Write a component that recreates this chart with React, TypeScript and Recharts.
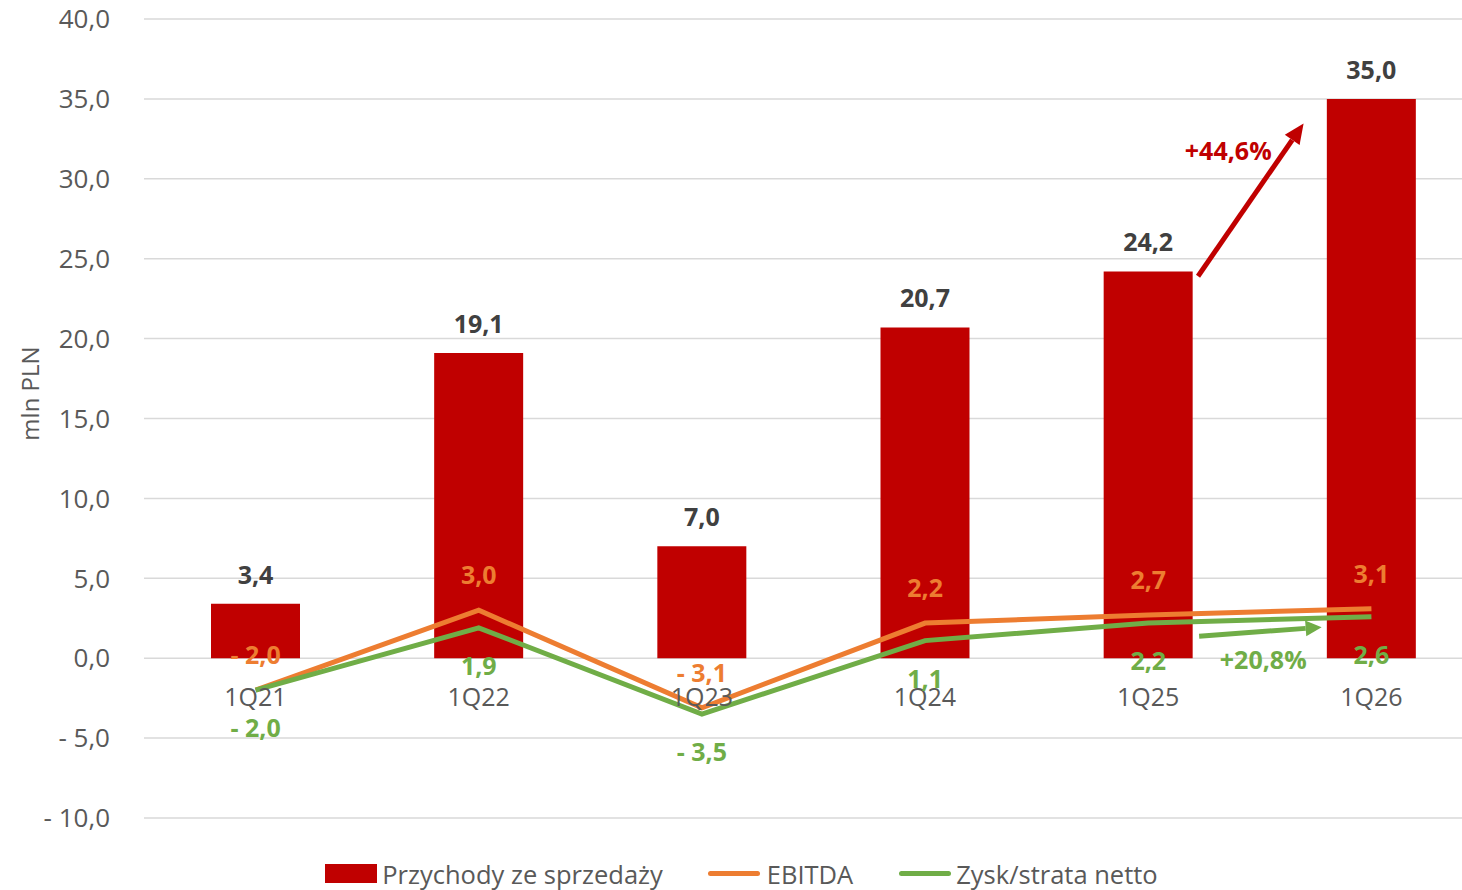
import React from "react";
import {
  Bar,
  CartesianGrid,
  ComposedChart,
  LabelList,
  Legend,
  Line,
  ReferenceDot,
  ReferenceLine,
  XAxis,
  YAxis,
} from "recharts";

const quarters = ["1Q21", "1Q22", "1Q23", "1Q24", "1Q25", "1Q26"];
const revenue = [3.4, 19.1, 7.0, 20.7, 24.2, 35.0];
const ebitda = [-2.0, 3.0, -3.1, 2.2, 2.7, 3.1];
const netProfit = [-2.0, 1.9, -3.5, 1.1, 2.2, 2.6];
const yTicks = [-10, -5, 0, 5, 10, 15, 20, 25, 30, 35, 40];
const seriesNames = ["Przychody ze sprzedaży", "EBITDA", "Zysk/strata netto"];

// growth arrows: a line between two quarters, drawn only over the part [t0, t1]
const revenueGrowth = {
  label: "+44,6%",
  line: [{ x: "1Q25", y: 19.4 }, { x: "1Q26", y: 39.6 }],
  trim: [0.223, 0.696],
  labelAt: { x: "1Q25", y: 31.8, dx: 80 },
};
const profitGrowth = {
  label: "+20,8%",
  line: [{ x: "1Q25", y: 1.14 }, { x: "1Q26", y: 2.17 }],
  trim: [0.228, 0.777],
  labelAt: { x: "1Q25", y: -0.06, dx: 115 },
};

const data = quarters.map((q, i) => ({
  quarter: q,
  revenue: revenue[i],
  ebitda: ebitda[i],
  net: netProfit[i],
}));

const RED = "#C00000";
const ORANGE = "#ED7D31";
const GREEN = "#70AD47";
const GRAY = "#595959";
const FONT = "'Open Sans', sans-serif";

const fmt = (v: number) =>
  (v < 0 ? "- " : "") + Math.abs(v).toFixed(1).replace(".", ",");

const BarValue = (props: any) => {
  const { x, y, width, value } = props;
  return (
    <text x={x + width / 2} y={y - 20} textAnchor="middle" fill="#404040" fontSize={25} fontWeight={700}>
      {fmt(value)}
    </text>
  );
};

// quarter names sit just under the zero line (the bars' base), as in the Excel original
const QuarterName = (props: any) => {
  const { x, y, width, height, value } = props;
  return (
    <text x={x + width / 2} y={y + height + 48} textAnchor="middle" fill={GRAY} fontSize={25}>
      {value}
    </text>
  );
};

const lineValue = (color: string, dy: number) => (props: any) => {
  const { x, y, value } = props;
  return (
    <text x={x} y={y + dy} textAnchor="middle" fill={color} fontSize={25} fontWeight={700}>
      {fmt(value)}
    </text>
  );
};

const arrow = (color: string, trim: number[], head: number, half: number) => (props: any) => {
  const { x1, y1, x2, y2 } = props;
  const sx = x1 + (x2 - x1) * trim[0];
  const sy = y1 + (y2 - y1) * trim[0];
  const ex = x1 + (x2 - x1) * trim[1];
  const ey = y1 + (y2 - y1) * trim[1];
  const a = Math.atan2(ey - sy, ex - sx);
  const bx = ex - head * Math.cos(a);
  const by = ey - head * Math.sin(a);
  const nx = -Math.sin(a);
  const ny = Math.cos(a);
  return (
    <g>
      <line x1={sx} y1={sy} x2={bx} y2={by} stroke={color} strokeWidth={5} />
      <polygon
        points={`${ex},${ey} ${bx + nx * half},${by + ny * half} ${bx - nx * half},${by - ny * half}`}
        fill={color}
      />
    </g>
  );
};

const growthLabel = (text: string, color: string, dx: number) => (props: any) => {
  const vb = props.viewBox;
  return (
    <text
      x={vb.x + vb.width / 2 + dx}
      y={vb.y + vb.height / 2}
      textAnchor="middle"
      dominantBaseline="central"
      fill={color}
      fontSize={25}
      fontWeight={700}
    >
      {text}
    </text>
  );
};

const LegendBox = () => (
  <div
    style={{
      height: 72,
      boxSizing: "border-box",
      paddingTop: 39,
      display: "flex",
      justifyContent: "center",
      alignItems: "center",
      fontSize: 25.5,
      color: GRAY,
      lineHeight: "28px",
    }}
  >
    <span style={{ display: "flex", alignItems: "center" }}>
      <span style={{ width: 52, height: 19, background: RED, marginRight: 5 }} />
      {seriesNames[0]}
    </span>
    <span style={{ display: "flex", alignItems: "center", marginLeft: 45 }}>
      <span style={{ width: 52, height: 5, borderRadius: 3, background: ORANGE, marginRight: 7 }} />
      {seriesNames[1]}
    </span>
    <span style={{ display: "flex", alignItems: "center", marginLeft: 46 }}>
      <span style={{ width: 52, height: 5, borderRadius: 3, background: GREEN, marginRight: 5 }} />
      {seriesNames[2]}
    </span>
  </div>
);

export default function App() {
  return (
    <div
      style={{
        position: "absolute",
        left: 0,
        top: 0,
        width: 1462,
        height: 890,
        overflow: "hidden",
        background: "#fff",
        fontFamily: FONT,
      }}
    >
      <ComposedChart width={1483} height={890} data={data} margin={{ top: 19, right: 0, bottom: 0, left: 0 }}>
        <CartesianGrid vertical={false} stroke="#D9D9D9" strokeWidth={1.5} />
        <XAxis dataKey="quarter" hide />
        <YAxis
          width={144}
          domain={[-10, 40]}
          ticks={yTicks}
          tickFormatter={fmt}
          axisLine={false}
          tickLine={false}
          tickSize={0}
          tickMargin={34}
          tick={{ fill: GRAY, fontSize: 26 }}
          label={{
            content: (p: any) => {
              const vb = p.viewBox;
              const cx = vb.x + 29;
              const cy = vb.y + vb.height / 2 - 25;
              return (
                <text
                  x={cx}
                  y={cy}
                  transform={`rotate(-90 ${cx} ${cy})`}
                  textAnchor="middle"
                  dominantBaseline="central"
                  fill={GRAY}
                  fontSize={24}
                >
                  mln PLN
                </text>
              );
            },
          }}
        />
        <Legend verticalAlign="bottom" content={() => <LegendBox />} />
        <Bar dataKey="revenue" name={seriesNames[0]} fill={RED} barSize={89} isAnimationActive={false}>
          <LabelList dataKey="revenue" content={<BarValue />} />
          <LabelList dataKey="quarter" content={<QuarterName />} />
        </Bar>
        <Line
          dataKey="ebitda"
          name={seriesNames[1]}
          type="linear"
          stroke={ORANGE}
          strokeWidth={5}
          dot={false}
          activeDot={false}
          isAnimationActive={false}
        >
          <LabelList dataKey="ebitda" content={lineValue(ORANGE, -26)} />
        </Line>
        <Line
          dataKey="net"
          name={seriesNames[2]}
          type="linear"
          stroke={GREEN}
          strokeWidth={5}
          dot={false}
          activeDot={false}
          isAnimationActive={false}
        >
          <LabelList dataKey="net" content={lineValue(GREEN, 47)} />
        </Line>
        <ReferenceLine
          segment={revenueGrowth.line}
          ifOverflow="visible"
          shape={arrow(RED, revenueGrowth.trim, 20, 9)}
        />
        <ReferenceLine
          segment={profitGrowth.line}
          ifOverflow="visible"
          shape={arrow(GREEN, profitGrowth.trim, 16, 8)}
        />
        <ReferenceDot
          x={revenueGrowth.labelAt.x}
          y={revenueGrowth.labelAt.y}
          r={0}
          fill="none"
          stroke="none"
          ifOverflow="visible"
          label={{ content: growthLabel(revenueGrowth.label, RED, revenueGrowth.labelAt.dx) }}
        />
        <ReferenceDot
          x={profitGrowth.labelAt.x}
          y={profitGrowth.labelAt.y}
          r={0}
          fill="none"
          stroke="none"
          ifOverflow="visible"
          label={{ content: growthLabel(profitGrowth.label, GREEN, profitGrowth.labelAt.dx) }}
        />
      </ComposedChart>
    </div>
  );
}
